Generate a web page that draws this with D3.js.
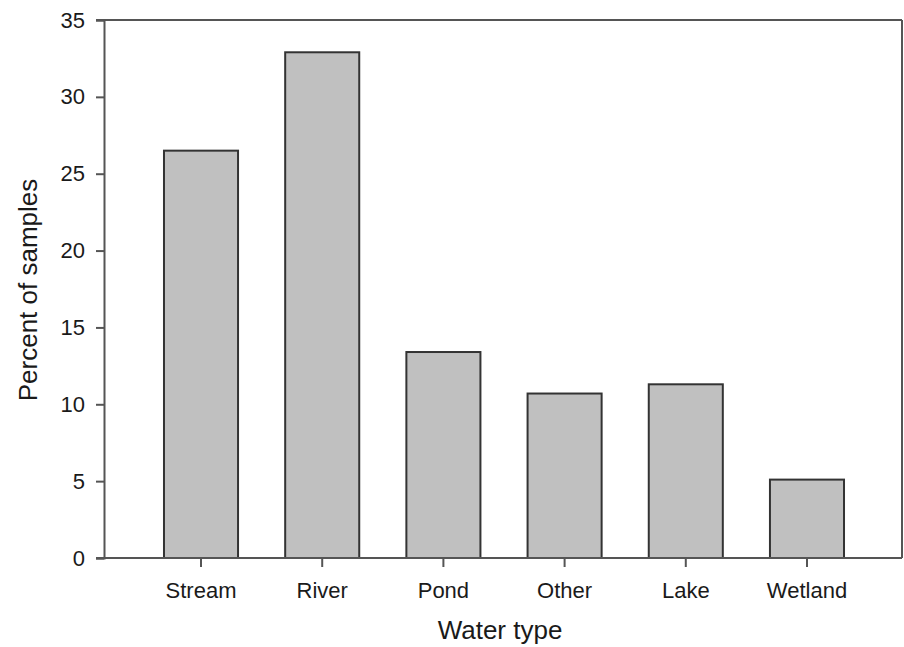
<!DOCTYPE html>
<html><head><meta charset="utf-8">
<script src="https://cdn.jsdelivr.net/npm/d3@7"></script>
<style>body{margin:0;background:#fff}svg{display:block}text{font-family:"Liberation Sans",Arial,sans-serif;fill:#1a1a1a}</style>
</head><body>
<svg id="c" width="904" height="647"></svg>
<script>
const categories = ["Stream","River","Pond","Other","Lake","Wetland"];
const values = [26.5, 32.9, 13.4, 10.7, 11.3, 5.1];
const yTicks = [0,5,10,15,20,25,30,35];
const xTitle = "Water type";
const yTitle = "Percent of samples";

(function(){
const svg = d3.select("#c");
const pL = 104, pR = 902, pT = 20, pB = 558;
const x = d3.scaleBand().domain(categories).range([104, 904]).paddingInner(0.389).paddingOuter(0.495);
const y = d3.scaleLinear().domain([0,35]).range([pB, pT]);

svg.selectAll("rect.bar").data(values).enter().append("rect")
  .attr("class","bar")
  .attr("x",(d,i)=>x(categories[i]))
  .attr("width",x.bandwidth())
  .attr("y",d=>y(d))
  .attr("height",d=>y(0)-y(d))
  .attr("fill","#c0c0c0").attr("stroke","#333").attr("stroke-width",2);

svg.append("line").attr("x1",96).attr("x2",pR).attr("y1",pT).attr("y2",pT).attr("stroke","#555").attr("stroke-width",2);
svg.append("line").attr("x1",pR).attr("x2",pR).attr("y1",pT).attr("y2",pB).attr("stroke","#555").attr("stroke-width",2);

const ya = svg.append("g").attr("transform",`translate(${pL},0)`)
  .call(d3.axisLeft(y).tickValues(yTicks).tickSize(8).tickPadding(11).tickFormat(d3.format("d")));
ya.select(".domain").attr("stroke","#555").attr("stroke-width",2);
ya.selectAll(".tick line").attr("stroke","#555").attr("stroke-width",2);
ya.selectAll(".tick text").style("font-size","22px").attr("fill","#1a1a1a");

const xa = svg.append("g").attr("transform",`translate(0,${pB})`)
  .call(d3.axisBottom(x).tickSize(9).tickPadding(15).tickSizeOuter(0));
xa.select(".domain").attr("d",`M96,0H${pR}`).attr("stroke","#555").attr("stroke-width",2);
xa.selectAll(".tick line").attr("stroke","#555").attr("stroke-width",2);
xa.selectAll(".tick text").style("font-size","22px").attr("fill","#1a1a1a");

svg.append("text").attr("x",500).attr("y",639).attr("text-anchor","middle").style("font-size","26px").text(xTitle);
svg.append("text").attr("transform","translate(37,290) rotate(-90)").attr("text-anchor","middle").style("font-size","26px").text(yTitle);
})();
</script>
</body></html>
